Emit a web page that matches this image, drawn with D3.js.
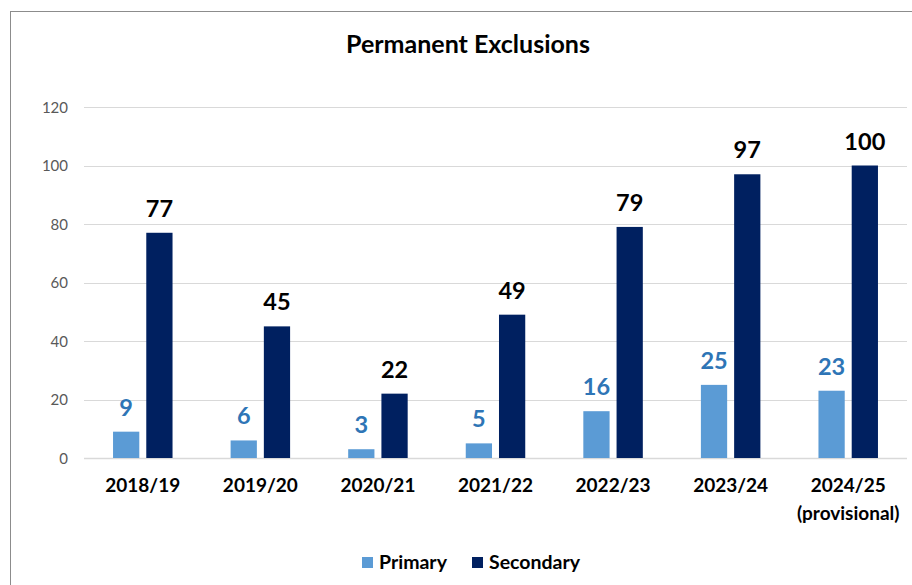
<!DOCTYPE html>
<html><head><meta charset="utf-8">
<script src="https://cdn.jsdelivr.net/npm/d3@7"></script>
<style>body{margin:0;background:#fff}svg{display:block}text{font-family:Lato,"Open Sans",sans-serif}</style>
</head><body>
<svg id="c" width="912" height="585"></svg>
<script>
const categories = ["2018/19","2019/20","2020/21","2021/22","2022/23","2023/24","2024/25\n(provisional)"];
const seriesNames = ["Primary","Secondary"];
const primary = [9,6,3,5,16,25,23];
const secondary = [77,45,22,49,79,97,100];
const yTicks = [0,20,40,60,80,100,120];
const colors = {Primary:"#5B9BD5", Secondary:"#002060"};
const labelColors = {Primary:"#2E75B6", Secondary:"#000000"};

const svg = d3.select("#c");
svg.append("rect").attr("x",10.5).attr("y",11.5).attr("width",1000).attr("height",1000)
  .attr("fill","#fff").attr("stroke","#8c8c8c").attr("stroke-width",1);

const x0 = 84, x1 = 907, yTop = 107, yBot = 458;
const x = d3.scaleBand().domain(categories).range([x0,x1]).paddingInner(0.494).paddingOuter(0.247);
const xs = d3.scaleBand().domain(seriesNames).range([0,x.bandwidth()]).paddingInner(0.21);
const y = d3.scaleLinear().domain([0,120]).range([yBot,yTop]);

// gridlines
svg.append("g").selectAll("line").data(yTicks).join("line")
  .attr("x1",x0).attr("x2",x1).attr("y1",d=>Math.round(y(d))+0.5).attr("y2",d=>Math.round(y(d))+0.5)
  .attr("stroke","#d9d9d9").attr("stroke-width",d=>d===0?1.5:1.2);

// y axis labels
const yAxis = d3.axisLeft(y).tickValues(yTicks).tickSize(0).tickPadding(0);
const ga = svg.append("g").attr("transform","translate(68,0)").call(yAxis);
ga.select(".domain").remove();
ga.selectAll("text").attr("fill","#595959").attr("font-size","15px").attr("font-family","Lato,sans-serif").attr("dy","0.35em");

const data = categories.map((c,i)=>({cat:c, vals:[{s:"Primary",v:primary[i]},{s:"Secondary",v:secondary[i]}]}));
const g = svg.append("g").selectAll("g").data(data).join("g").attr("transform",d=>`translate(${x(d.cat)},0)`);
g.selectAll("rect").data(d=>d.vals).join("rect")
  .attr("x",d=>xs(d.s)).attr("width",xs.bandwidth())
  .attr("y",d=>y(d.v)).attr("height",d=>y(0)-y(d.v)).attr("fill",d=>colors[d.s]);
g.selectAll("text.val").data(d=>d.vals).join("text").attr("class","val")
  .attr("x",d=>xs(d.s)+xs.bandwidth()/2).attr("y",d=>y(d.v)-16)
  .attr("text-anchor","middle").attr("font-size","23.5px").attr("font-weight","bold")
  .attr("fill",d=>labelColors[d.s]).text(d=>d.v);

// category labels
const cl = svg.append("g").selectAll("text").data(categories).join("text")
  .attr("x",d=>x(d)+x.bandwidth()/2).attr("y",492)
  .attr("text-anchor","middle").attr("font-size","19px").attr("font-weight","bold").attr("fill","#000");
cl.each(function(d){
  const parts = d.split("\n");
  d3.select(this).selectAll("tspan").data(parts).join("tspan")
    .attr("x",x(d)+x.bandwidth()/2).attr("dy",(p,i)=>i===0?0:28).text(p=>p);
});

// title
svg.append("text").attr("x",468).attr("y",53).attr("text-anchor","middle")
  .attr("font-size","25px").attr("font-weight","bold").attr("fill","#000").text("Permanent Exclusions");

// legend
const leg = [{s:"Primary",x:362},{s:"Secondary",x:472}];
const lg = svg.append("g").selectAll("g").data(leg).join("g").attr("transform",d=>`translate(${d.x},557)`);
lg.append("rect").attr("width",11).attr("height",11).attr("fill",d=>colors[d.s]);
lg.append("text").attr("x",17).attr("y",11.5).attr("font-size","19.5px").attr("font-weight","bold").attr("fill","#000").text(d=>d.s);
</script>
</body></html>
